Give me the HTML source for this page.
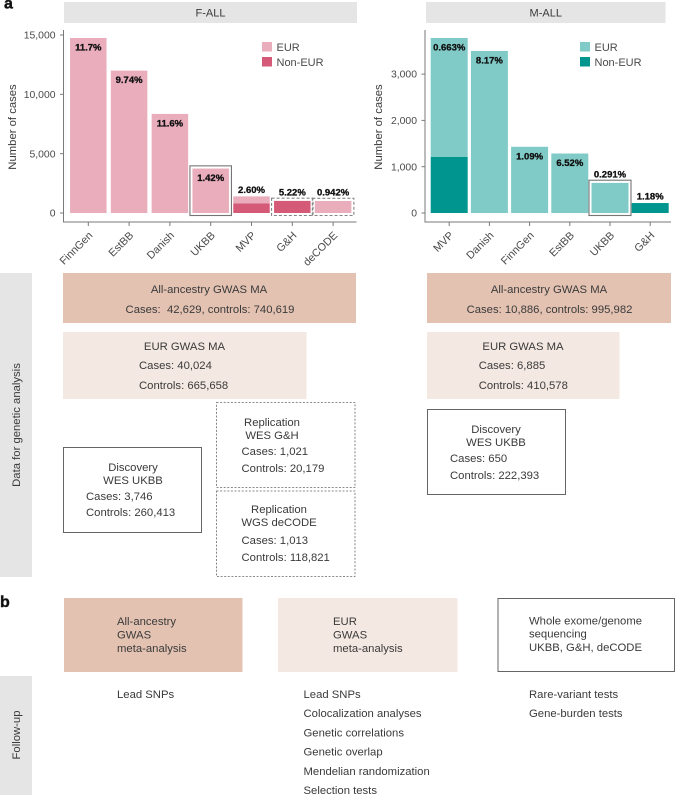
<!DOCTYPE html>
<html lang="en">
<head>
<meta charset="utf-8">
<title>F-ALL and M-ALL cases and study design</title>
<style>
html,body{margin:0;padding:0;background:#fff;}
body{width:675px;height:795px;overflow:hidden;}
svg{display:block;font-family:"Liberation Sans",sans-serif;}
.t{font-size:11.3px;fill:#3a3a3a;}
.m{text-anchor:middle;}
</style>
</head>
<body>
<svg id="fig" xmlns="http://www.w3.org/2000/svg" width="675" height="795" viewBox="0 0 675 795">
  <text x="4" y="8.5" font-size="16" font-weight="900" fill="#111" stroke="#111" stroke-width=".4">a</text>
  <text x="0" y="607" font-size="16" font-weight="900" fill="#111" stroke="#111" stroke-width=".4">b</text>

  <g id="chart-f"></g>
  <g id="chart-m"></g>

  <g>
    <rect x="0" y="273" width="32" height="304" fill="#e5e5e5"/>
    <text class="t" transform="translate(20,425) rotate(-90)" text-anchor="middle" font-size="11.5">Data for genetic analysis</text>

    <g>
      <rect x="63" y="273" width="293" height="50" fill="#e3c2b2"/>
      <text class="t m" x="209" y="293">All-ancestry GWAS MA</text>
      <text class="t m" x="210" y="313" xml:space="preserve">Cases:  42,629, controls: 740,619</text>
    </g>
    <g>
      <rect x="63" y="332" width="243.5" height="67" fill="#f4e8e2"/>
      <text class="t m" x="184.5" y="350">EUR GWAS MA</text>
      <text class="t" x="139" y="369">Cases: 40,024</text>
      <text class="t" x="139" y="389">Controls: 665,658</text>
    </g>
    <g>
      <rect x="216.5" y="402.5" width="138.5" height="85" fill="none" stroke="#666" stroke-width=".8" stroke-dasharray="2 1.6"/>
      <text class="t m" x="272" y="426">Replication</text>
      <text class="t m" x="272" y="439">WES G&amp;H</text>
      <text class="t" x="241.5" y="455">Cases: 1,021</text>
      <text class="t" x="241.5" y="472">Controls: 20,179</text>
    </g>
    <g>
      <rect x="216.5" y="491" width="138.5" height="85.5" fill="none" stroke="#666" stroke-width=".8" stroke-dasharray="2 1.6"/>
      <text class="t m" x="279" y="513">Replication</text>
      <text class="t m" x="279" y="526">WGS deCODE</text>
      <text class="t" x="241.5" y="544">Cases: 1,013</text>
      <text class="t" x="241.5" y="561">Controls: 118,821</text>
    </g>
    <g>
      <rect x="63.5" y="447.5" width="138" height="85" fill="none" stroke="#555" stroke-width=".9"/>
      <text class="t m" x="133" y="471">Discovery</text>
      <text class="t m" x="133" y="484">WES UKBB</text>
      <text class="t" x="86" y="500">Cases: 3,746</text>
      <text class="t" x="86" y="516">Controls: 260,413</text>
    </g>

    <g>
      <rect x="427" y="273" width="244" height="50" fill="#e3c2b2"/>
      <text class="t m" x="549" y="293">All-ancestry GWAS MA</text>
      <text class="t m" x="549.5" y="313">Cases: 10,886, controls: 995,982</text>
    </g>
    <g>
      <rect x="427" y="332" width="192.5" height="67" fill="#f4e8e2"/>
      <text class="t m" x="523" y="350">EUR GWAS MA</text>
      <text class="t" x="478.7" y="369">Cases: 6,885</text>
      <text class="t" x="478.7" y="389">Controls: 410,578</text>
    </g>
    <g>
      <rect x="427.5" y="409.5" width="138" height="85" fill="none" stroke="#555" stroke-width=".9"/>
      <text class="t m" x="496" y="433">Discovery</text>
      <text class="t m" x="496" y="446">WES UKBB</text>
      <text class="t" x="450" y="462">Cases: 650</text>
      <text class="t" x="450" y="479">Controls: 222,393</text>
    </g>
  </g>

  <g>
    <rect x="0" y="676" width="32" height="119" fill="#e5e5e5"/>
    <text class="t" transform="translate(20,735) rotate(-90)" text-anchor="middle" font-size="11.5">Follow-up</text>

    <g>
      <rect x="64" y="598" width="178.5" height="74" fill="#e3c2b2"/>
      <text class="t" x="117" y="625">All-ancestry</text>
      <text class="t" x="117" y="638.5">GWAS</text>
      <text class="t" x="117" y="652">meta-analysis</text>
    </g>
    <g>
      <rect x="278" y="598" width="179.5" height="74" fill="#f4e8e2"/>
      <text class="t" x="333" y="625">EUR</text>
      <text class="t" x="333" y="638.5">GWAS</text>
      <text class="t" x="333" y="652">meta-analysis</text>
    </g>
    <g>
      <rect x="498" y="598.5" width="176.5" height="73" fill="none" stroke="#555" stroke-width=".9"/>
      <text class="t" x="529" y="624.5">Whole exome/genome</text>
      <text class="t" x="529" y="637.5">sequencing</text>
      <text class="t" x="529" y="651">UKBB, G&amp;H, deCODE</text>
    </g>

    <text class="t" x="117" y="698">Lead SNPs</text>
    <g>
      <text class="t" x="303.5" y="698">Lead SNPs</text>
      <text class="t" x="303.5" y="717">Colocalization analyses</text>
      <text class="t" x="303.5" y="736.5">Genetic correlations</text>
      <text class="t" x="303.5" y="755.5">Genetic overlap</text>
      <text class="t" x="303.5" y="775">Mendelian randomization</text>
      <text class="t" x="303.5" y="794">Selection tests</text>
    </g>
    <g>
      <text class="t" x="529" y="698">Rare-variant tests</text>
      <text class="t" x="529" y="717">Gene-burden tests</text>
    </g>
  </g>
</svg>
<script>
/* F-ALL data */
const fCategories = ['FinnGen', 'EstBB', 'Danish', 'UKBB', 'MVP', 'G&H', 'deCODE'];
const fEur = [14750, 12000, 8350, 3746, 600, 0, 1013];
const fNonEur = [0, 0, 0, 0, 800, 1021, 0];
const fPercent = ['11.7%', '9.74%', '11.6%', '1.42%', '2.60%', '5.22%', '0.942%'];
const fLabelInside = [true, true, true, true, false, false, false];
const fFrames = ['', '', '', 'solid', '', 'dashed', 'dashed'];
const fTicks = [0, 5000, 10000, 15000];
const fTickLabels = ['0', '5,000', '10,000', '15,000'];

/* M-ALL data */
const mCategories = ['MVP', 'Danish', 'FinnGen', 'EstBB', 'UKBB', 'G&H'];
const mEur = [2570, 3500, 1430, 1285, 650, 0];
const mNonEur = [1210, 0, 0, 0, 0, 215];
const mPercent = ['0.663%', '8.17%', '1.09%', '6.52%', '0.291%', '1.18%'];
const mLabelInside = [true, true, true, true, false, false];
const mFrames = ['', '', '', '', 'solid', ''];
const mTicks = [0, 1000, 2000, 3000];
const mTickLabels = ['0', '1,000', '2,000', '3,000'];

const SVGNS = 'http://www.w3.org/2000/svg';
function mk(parent, tag, attrs, text) {
  const el = document.createElementNS(SVGNS, tag);
  for (const k in attrs) el.setAttribute(k, attrs[k]);
  if (text !== undefined) el.textContent = text;
  parent.appendChild(el);
  return el;
}

function drawChart(root, cfg) {
  const yScale = v => cfg.y0 - v * cfg.pxPerUnit;
  const xScale = i => cfg.x0 + i * cfg.step;
  const axisColor = '#7a7a7a';
  const textColor = '#4a4a4a';

  const strip = mk(root, 'rect', {x: cfg.stripX, y: 2, width: cfg.stripW, height: 21, fill: '#e5e5e5'});
  
  
  const stripText = mk(root, 'text', {x: cfg.stripX + cfg.stripW / 2, y: 16.5, 'text-anchor': 'middle', 'font-size': 11, fill: '#3a3a3a'}, cfg.title);
  
  

  cfg.cats.forEach((cat, i) => {
    const cx = xScale(i);
    const bx = cx - cfg.barW / 2;
    const nonTop = yScale(cfg.non[i]);
    const allTop = yScale(cfg.non[i] + cfg.eur[i]);
    if (cfg.eur[i] > 0) {
      const r = mk(root, 'rect', {x: bx, y: allTop, width: cfg.barW, height: nonTop - allTop, fill: cfg.light});
      
      
    }
    if (cfg.non[i] > 0) {
      const r = mk(root, 'rect', {x: bx, y: nonTop, width: cfg.barW, height: cfg.y0 - nonTop, fill: cfg.dark});
      
      
    }
    if (cfg.frames[i]) {
      const attrs = {x: bx - 2.5, y: allTop - 2.7, width: cfg.barW + 5, height: cfg.y0 - allTop + 5.2, fill: 'none', stroke: cfg.frames[i] === 'solid' ? '#757575' : '#858585', 'stroke-width': 1.1};
      if (cfg.frames[i] === 'dashed') attrs['stroke-dasharray'] = '3 2';
      const f = mk(root, 'rect', attrs);
      
      
    }
    const ly = cfg.inside[i] ? allTop + 12.5 : allTop - (cfg.frames[i] ? 5.5 : 3.5);
    const lab = mk(root, 'text', {x: cx, y: ly, 'text-anchor': 'middle', 'font-size': 9.5, 'font-weight': 700, fill: '#111', stroke: '#111', 'stroke-width': .3}, cfg.pct[i]);
    
    

    const tk = mk(root, 'line', {x1: cx, x2: cx, y1: cfg.axisY, y2: cfg.axisY + 4, stroke: axisColor, 'stroke-width': 1});
    
    
    const tl = mk(root, 'text', {transform: 'translate(' + (cx + 5) + ',' + (cfg.axisY + 14) + ') rotate(-45)', 'text-anchor': 'end', 'font-size': 10.8, fill: textColor}, cat);
    
    
  });

  cfg.ticks.forEach((t, i) => {
    const y = yScale(t);
    const tk = mk(root, 'line', {x1: cfg.axisX - 3.5, x2: cfg.axisX, y1: y, y2: y, stroke: axisColor, 'stroke-width': 1});
    
    
    const tl = mk(root, 'text', {x: cfg.axisX - 8, y: y + 3.6, 'text-anchor': 'end', 'font-size': 10.4, fill: textColor}, cfg.tickLabels[i]);
    
    
  });

  const ya = mk(root, 'line', {x1: cfg.axisX, x2: cfg.axisX, y1: 30, y2: cfg.axisY + .5, stroke: axisColor, 'stroke-width': 1});
  
  
  const xa = mk(root, 'line', {x1: cfg.axisX, x2: cfg.axisEnd, y1: cfg.axisY, y2: cfg.axisY, stroke: axisColor, 'stroke-width': 1});
  
  
  const yt = mk(root, 'text', {transform: 'translate(' + cfg.titleX + ',127) rotate(-90)', 'text-anchor': 'middle', 'font-size': 11.3, fill: '#3a3a3a'}, 'Number of cases');
  
  

  [['EUR', cfg.light, 42], ['Non-EUR', cfg.dark, 57]].forEach(entry => {
    const s = mk(root, 'rect', {x: cfg.legendX, y: entry[2], width: 10, height: 9.5, fill: entry[1]});
    
    
    const l = mk(root, 'text', {x: cfg.legendX + 14.5, y: entry[2] + 9, 'font-size': 11, fill: textColor}, entry[0]);
    
    
  });
}

drawChart(document.getElementById('chart-f'), {
  title: 'F-ALL', cats: fCategories, eur: fEur, non: fNonEur, pct: fPercent, inside: fLabelInside, frames: fFrames,
  ticks: fTicks, tickLabels: fTickLabels,
  y0: 213, pxPerUnit: 178 / 15000, x0: 88.3, step: 40.8, barW: 36.5,
  axisX: 63.5, axisY: 222, axisEnd: 356.5, titleX: 16,
  stripX: 64, stripW: 293, legendX: 262, light: '#e9adbc', dark: '#d45a78'
});
drawChart(document.getElementById('chart-m'), {
  title: 'M-ALL', cats: mCategories, eur: mEur, non: mNonEur, pct: mPercent, inside: mLabelInside, frames: mFrames,
  ticks: mTicks, tickLabels: mTickLabels,
  y0: 213, pxPerUnit: 46.3 / 1000, x0: 449.2, step: 40.2, barW: 37,
  axisX: 425, axisY: 222, axisEnd: 671, titleX: 382,
  stripX: 426, stripW: 239.5, legendX: 580, light: '#80cbc7', dark: '#00968f'
});
</script>
</body>
</html>
